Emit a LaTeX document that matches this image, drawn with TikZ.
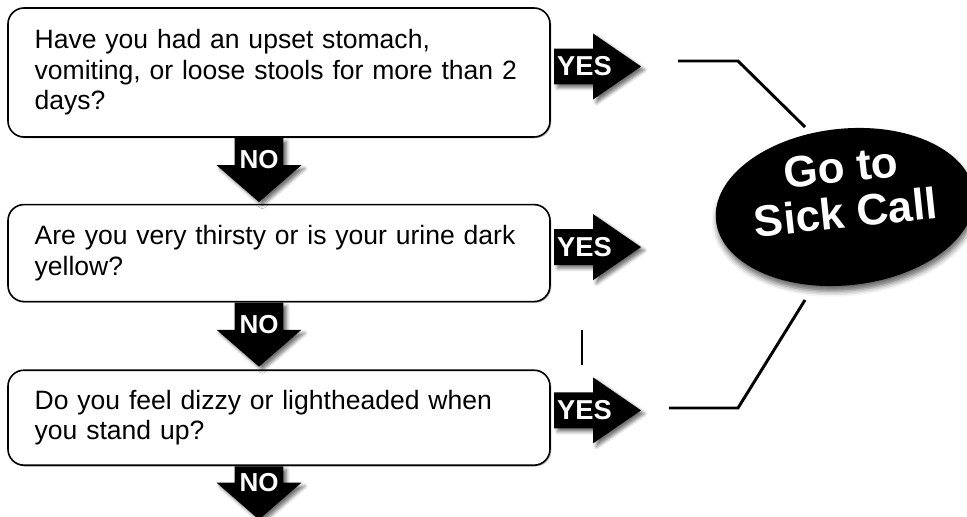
\documentclass[tikz,border=0pt]{standalone}
\usepackage{fontspec}
\setmainfont{Liberation Sans}
\usetikzlibrary{shapes,arrows,positioning,calc,shadows,shadows.blur}

\begin{document}
\begin{tikzpicture}[
    x=0.75pt, y=-0.75pt,
    question/.style={rectangle, draw, line width=1.2pt, rounded corners=12pt, text width=366.5pt, align=left, inner xsep=20pt, inner ysep=0pt, fill=white, font=\fontsize{19.9}{22.9}\selectfont, drop shadow={shadow xshift=1pt, shadow yshift=-1pt, opacity=0.5}},
    yesarrow/.style={single arrow, fill=black, text=white, font=\fontsize{20.5}{20.5}\selectfont\bfseries, minimum height=65.25pt, minimum width=49.5pt, single arrow head extend=11.25pt, single arrow tip angle=69, single arrow head indent=0pt, inner xsep=0pt, inner ysep=6pt, blur shadow={shadow xshift=2.5pt, shadow yshift=-2.5pt, shadow blur radius=2.5pt, shadow opacity=55}},
    noarrow/.style={yesarrow, font=\fontsize{19.5}{19.5}\selectfont\bfseries, shape border rotate=270, minimum height=48pt, minimum width=63pt, single arrow head extend=13.5pt, single arrow tip angle=98, inner xsep=3.5pt, inner ysep=0pt},
    sick/.style={ellipse, fill=black, text=white, minimum width=181pt, minimum height=91pt, inner sep=0pt, align=center, font=\fontsize{33}{34}\selectfont\bfseries, text depth=26pt, blur shadow={shadow xshift=1pt, shadow yshift=-4pt, shadow blur radius=4pt, shadow opacity=60}},
    link/.style={line width=2.2pt}
]
    \useasboundingbox (0,0) rectangle (967,517);

    % Questions
    \node[question, minimum height=96.75pt] (q1) at (279,72.5) {Have you had an upset stomach,\\vomiting, or loose stools for more than 2\\days?};
    \node[question, minimum height=72.75pt, below=49.5pt of q1] (q2) {Are you very thirsty or is your urine dark\\yellow?};
    \node[question, minimum height=71.25pt, below=50.25pt of q2] (q3) {Do you feel dizzy or lightheaded when\\you stand up?};

    % NO arrows
    \node[noarrow, anchor=tail] (no1) at ([xshift=-15pt]q1.south) {NO};
    \node[noarrow, anchor=tail] (no2) at ([xshift=-15pt]q2.south) {NO};
    \node[noarrow, anchor=tail, minimum height=40pt] (no3) at ([xshift=-15pt]q3.south) {NO};

    % YES arrows
    \node[yesarrow, anchor=tail] (yes1) at ([shift={(2.25pt,4.5pt)}]q1.east) {YES};
    \node[yesarrow, anchor=tail] (yes2) at ([shift={(2.25pt,4.5pt)}]q2.east) {YES};
    \node[yesarrow, anchor=tail] (yes3) at ([shift={(2.25pt,5.5pt)}]q3.east) {YES};

    % Sick call
    \node[sick, rotate=6] (call) at (845,207) {Go to\\Sick Call};

    % Links
    \coordinate (l1a) at (678,61);
    \coordinate (l1b) at (738,61);
    \coordinate (l1c) at (805,127);
    \coordinate (l3a) at (669,408);
    \coordinate (l3b) at (738,408);
    \coordinate (l3c) at (805,300);
    \coordinate (s1) at (582,330);
    \coordinate (s2) at (582,365);
    \draw[link] (l1a) -- (l1b) -- (l1c);
    \draw[link] (l3a) -- (l3b) -- (l3c);
    \draw[link] (s1) -- (s2);
\end{tikzpicture}
\end{document}
